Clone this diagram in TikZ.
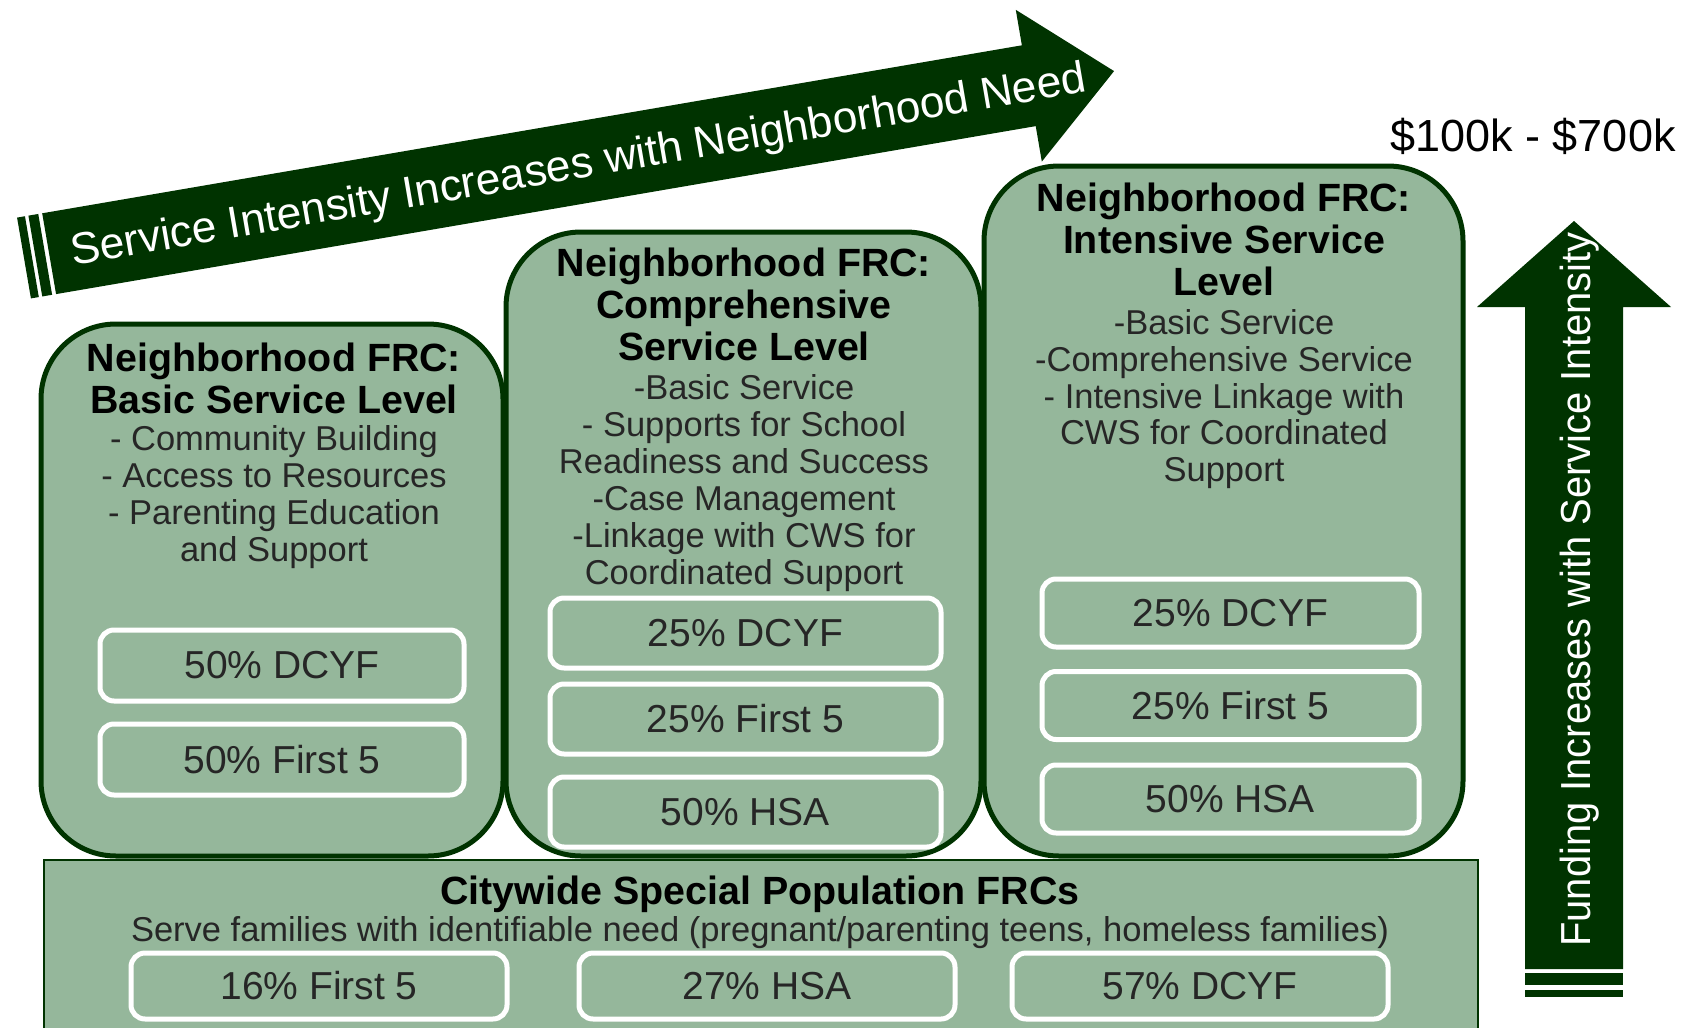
\documentclass[tikz,border=0pt]{standalone}
\usepackage{fontspec}
\setmainfont{Liberation Sans}
\newfontfamily\narrowsans[FakeStretch=0.95]{Liberation Sans}
\definecolor{dkgreen}{RGB}{0,51,0}
\definecolor{sage}{RGB}{149,183,155}
\begin{document}
\begin{tikzpicture}[x=1pt,y=-1pt,
  frc/.style={draw=dkgreen, line width=5pt, fill=sage, rounded corners=75pt, inner sep=0pt},
  pct/.style={draw=white, line width=5pt, fill=sage, rounded corners=14pt, inner sep=0pt,
    font=\fontsize{39}{42}\selectfont, text=black!85},
  ttl/.style={font=\fontsize{39.4}{42}\selectfont\bfseries, anchor=base, inner sep=0pt},
  bod/.style={font=\fontsize{34.5}{37}\selectfont, anchor=base, inner sep=0pt, text=black!85},
  arr/.style={fill=dkgreen},
]
\useasboundingbox (0,0) rectangle (1690,1028);
\begin{scope}
\clip (0,0) rectangle (1690,1028);

% citywide band
\node[fill=sage, draw=dkgreen, line width=1.5pt, minimum width=1434pt, minimum height=200pt, inner sep=0pt, anchor=north west] (city) at (43,859) {};

% three service-level boxes
\node[frc, minimum width=462pt, minimum height=532pt] (basic) at (272,590) {};
\node[frc, minimum width=475pt, minimum height=624pt] (comp) at (743.5,544) {};
\node[frc, minimum width=479pt, minimum height=690pt] (inten) at (1223.5,511) {};

% basic texts
\node[ttl] (bt1) at (274,371) {Neighborhood FRC:};
\node[ttl] (bt2) at (274,413) {Basic Service Level};
\node[bod] (bb1) at (274,450) {- Community Building};
\node[bod] (bb2) at (274,487) {- Access to Resources};
\node[bod] (bb3) at (274,524) {- Parenting Education};
\node[bod] (bb4) at (274,561) {and Support};
\node[pct, minimum width=364pt, minimum height=71pt] (bp1) at (282,665.5) {50\% DCYF};
\node[pct, minimum width=364pt, minimum height=71pt] (bp2) at (282,759.5) {50\% First 5};

% comprehensive texts
\node[ttl] (ct1) at (744,276) {Neighborhood FRC:};
\node[ttl] (ct2) at (744,318) {Comprehensive};
\node[ttl] (ct3) at (744,360) {Service Level};
\node[bod] (cb1) at (744,399) {-Basic Service};
\node[bod] (cb2) at (744,436) {- Supports for School};
\node[bod] (cb3) at (744,473) {Readiness and Success};
\node[bod] (cb4) at (744,510) {-Case Management};
\node[bod] (cb5) at (744,547) {-Linkage with CWS for};
\node[bod] (cb6) at (744,584) {Coordinated Support};
\node[pct, minimum width=391pt, minimum height=70pt] (cp1) at (745.5,633) {25\% DCYF};
\node[pct, minimum width=391pt, minimum height=70pt] (cp2) at (745.5,719) {25\% First 5};
\node[pct, minimum width=391pt, minimum height=70pt] (cp3) at (745.5,812) {50\% HSA};

% intensive texts
\node[ttl] (it1) at (1224,211) {Neighborhood FRC:};
\node[ttl] (it2) at (1224,253) {Intensive Service};
\node[ttl] (it3) at (1224,295) {Level};
\node[bod] (ib1) at (1224,334) {-Basic Service};
\node[bod] (ib2) at (1224,371) {-Comprehensive Service};
\node[bod] (ib3) at (1224,408) {- Intensive Linkage with};
\node[bod] (ib4) at (1224,444) {CWS for Coordinated};
\node[bod] (ib5) at (1224,481) {Support};
\node[pct, minimum width=377pt, minimum height=68pt] (ip1) at (1230.5,613) {25\% DCYF};
\node[pct, minimum width=377pt, minimum height=68pt] (ip2) at (1230.5,705.5) {25\% First 5};
\node[pct, minimum width=377pt, minimum height=68pt] (ip3) at (1230.5,799) {50\% HSA};

% citywide texts
\node[ttl] (wt1) at (760,904) {Citywide Special Population FRCs};
\node[bod] (wb1) at (760,941) {Serve families with identifiable need (pregnant/parenting teens, homeless families)};
\node[pct, minimum width=376pt, minimum height=66pt] (wp1) at (319,986) {16\% First 5};
\node[pct, minimum width=376pt, minimum height=66pt] (wp2) at (767,986) {27\% HSA};
\node[pct, minimum width=376pt, minimum height=66pt] (wp3) at (1200,986) {57\% DCYF};

% top slanted striped arrow
\begin{scope}[shift={(24,258)}, rotate=9.73]
  \fill[arr] (0,-41) rectangle (8,41);
  \fill[arr] (11.5,-41) rectangle (21.5,41);
  \fill[arr] (25.5,-41) -- (1019.5,-41) -- (1019.5,-77) -- (1106,0) -- (1019.5,77) -- (1019.5,41) -- (25.5,41) -- cycle;
  \node[anchor=base, inner sep=0pt, rotate=9.73, text=white, font=\fontsize{44.3}{48}\selectfont] (toptext) at (562,15.7) {Service Intensity Increases with Neighborhood Need};
\end{scope}

% vertical striped arrow
\fill[arr] (1525,969) -- (1525,307) -- (1477,307) -- (1574,221) -- (1671,307) -- (1623,307) -- (1623,969) -- cycle;
\fill[arr] (1525,973) rectangle (1623,985);
\fill[arr] (1525,990) rectangle (1623,997);
\node[anchor=base, inner sep=0pt, rotate=90, text=white, font=\narrowsans\fontsize{42}{46}\selectfont] (vtext) at (1590,589.5) {Funding Increases with Service Intensity};

% funding range
\node[anchor=base, inner sep=0pt, font=\fontsize{45}{50}\selectfont] (range) at (1533,151) {\$100k - \$700k};
\end{scope}
\end{tikzpicture}
\end{document}
